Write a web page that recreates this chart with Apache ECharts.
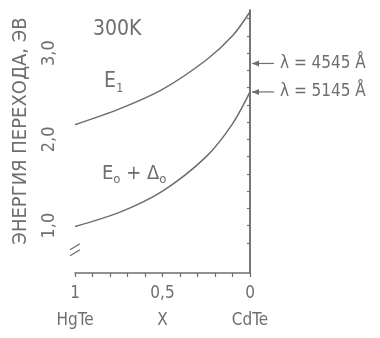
<!DOCTYPE html>
<html>
<head>
<meta charset="utf-8">
<script src="https://cdn.jsdelivr.net/npm/echarts@6/dist/echarts.min.js"></script>
<style>
  html, body { margin: 0; padding: 0; background: #fff; }
  #chart { width: 380px; height: 338px; }
</style>
</head>
<body>
<div id="chart"></div>
<script>
// composition x (1 = HgTe, 0 = CdTe) and transition energies, eV
var e1X = [1, 0.75, 0.5, 0.25, 0.1, 0];
var e1Vals = [2.17, 2.35, 2.58, 2.92, 3.2, 3.48];
var e0X = [1, 0.75, 0.5, 0.25, 0.1, 0];
var e0Vals = [0.99, 1.15, 1.4, 1.8, 2.18, 2.55];
// laser lines marked on the right axis
var laserNames = ["λ = 4545 Å", "λ = 5145 Å"];
var laserE = [2.88, 2.55];
var yTickLabels = { 1: "1,0", 2: "2,0", 3: "3,0" };
var xTickLabels = [
  { v: 1, top: "1", bottom: "HgTe" },
  { v: 0.5, top: "0,5", bottom: "X" },
  { v: 0, top: "0", bottom: "CdTe" }
];

var ink = "#6e6e6e";
var font = "'Liberation Sans Narrow', 'DejaVu Sans Condensed', sans-serif";

function pairs(xs, ys) {
  return xs.map(function(x, i) {
    return [x, ys[i]];
  });
}

var chart = echarts.init(document.getElementById("chart"));

var minorTicks = [];
for (var t = 4; t <= 17; t++) minorTicks.push(t / 5);

var option = {
  animation: false,
  grid: { left: 75, right: 130, top: 10, bottom: 65 },
  xAxis: {
    type: "value",
    min: 0,
    max: 1,
    interval: 0.1,
    inverse: true,
    splitLine: { show: false },
    axisLine: { lineStyle: { color: ink, width: 1.5 } },
    axisTick: { length: 4, lineStyle: { color: ink, width: 1.2 } },
    axisLabel: {
      margin: 7,
      fontFamily: font,
      color: ink,
      formatter: function(v) {
        for (var i = 0; i < xTickLabels.length; i++) {
          if (Math.abs(xTickLabels[i].v - v) < 1e-6) {
            return "{a|" + xTickLabels[i].top + "}\n{b|" + xTickLabels[i].bottom + "}";
          }
        }
        return "";
      },
      rich: {
        a: { fontSize: 17, lineHeight: 28, color: ink, fontFamily: font },
        b: { fontSize: 17, lineHeight: 26, color: ink, fontFamily: font }
      }
    }
  },
  yAxis: [
    {
      type: "value",
      min: 0.45,
      max: 3.5,
      splitLine: { show: false },
      axisLine: { lineStyle: { color: ink, width: 1.5 } },
      axisTick: {
        length: 3,
        customValues: minorTicks,
        lineStyle: { color: ink, width: 1.2 }
      },
      axisLabel: {
        customValues: [1, 2, 3],
        rotate: 90,
        margin: 17,
        fontSize: 18,
        fontFamily: font,
        color: ink,
        formatter: function(v) {
          return yTickLabels[Math.round(v)] || "";
        }
      }
    },
    {
      type: "value",
      position: "right",
      min: 0.45,
      max: 3.48,
      splitLine: { show: false },
      axisLine: { show: true, lineStyle: { color: ink, width: 1.5 } },
      axisTick: { show: false },
      axisLabel: { show: false }
    }
  ],
  series: [
    {
      name: "E1",
      type: "line",
      smooth: 0.3,
      symbol: "none",
      lineStyle: { color: ink, width: 1.5 },
      data: pairs(e1X, e1Vals)
    },
    {
      name: "E0+Δ0",
      type: "line",
      smooth: 0.3,
      symbol: "none",
      lineStyle: { color: ink, width: 1.5 },
      data: pairs(e0X, e0Vals)
    }
  ]
};
chart.setOption(option);

// annotations placed through the axis scales
var g = [];
var txt = function(x, y, text, size, extra) {
  var s = { text: text, fill: ink, fontSize: size, fontFamily: font };
  for (var k in extra) s[k] = extra[k];
  return { type: "text", x: x, y: y, style: s };
};
g.push(txt(93, 30, "300K", 21, { verticalAlign: "middle" }));
g.push({
  type: "text", x: 104, y: 82,
  style: { text: "{e|E}{s|1}", verticalAlign: "middle",
    rich: { e: { fontSize: 21, fill: ink, fontFamily: font }, s: { fontSize: 13, fill: ink, fontFamily: font, padding: [14, 0, 0, 0] } } }
});
g.push({
  type: "text", x: 102, y: 174,
  style: { text: "{e|E}{s|o}{e| + Δ}{s|o}", verticalAlign: "middle",
    rich: { e: { fontSize: 20, fill: ink, fontFamily: font }, s: { fontSize: 13, fill: ink, fontFamily: font, padding: [12, 0, 0, 0] } } }
});
// y axis title
g.push({
  type: "text", x: 21, y: 131, rotation: Math.PI / 2,
  style: { text: "ЭНЕРГИЯ ПЕРЕХОДА, ЭВ", fill: ink, fontSize: 20, fontFamily: font, align: "center", verticalAlign: "middle" }
});
// axis break mark
var brk = chart.convertToPixel({ gridIndex: 0 }, [1, 0.72]);
[-3, 3].forEach(function(d) {
  g.push({ type: "line", shape: { x1: brk[0] - 5, y1: brk[1] + d + 3, x2: brk[0] + 5, y2: brk[1] + d - 3 }, style: { stroke: ink, lineWidth: 1.3 } });
});
// laser arrows
laserE.forEach(function(e, i) {
  var p = chart.convertToPixel({ gridIndex: 0 }, [0, e]);
  g.push({ type: "line", shape: { x1: p[0] + 2, y1: p[1], x2: p[0] + 24, y2: p[1] }, style: { stroke: ink, lineWidth: 1.2 } });
  g.push({ type: "polygon", shape: { points: [[p[0] + 2, p[1]], [p[0] + 9, p[1] - 3], [p[0] + 9, p[1] + 3]] }, style: { fill: ink } });
  g.push(txt(p[0] + 30, p[1], laserNames[i], 17, { verticalAlign: "middle" }));
});
chart.setOption({ graphic: g });
</script>
</body>
</html>
